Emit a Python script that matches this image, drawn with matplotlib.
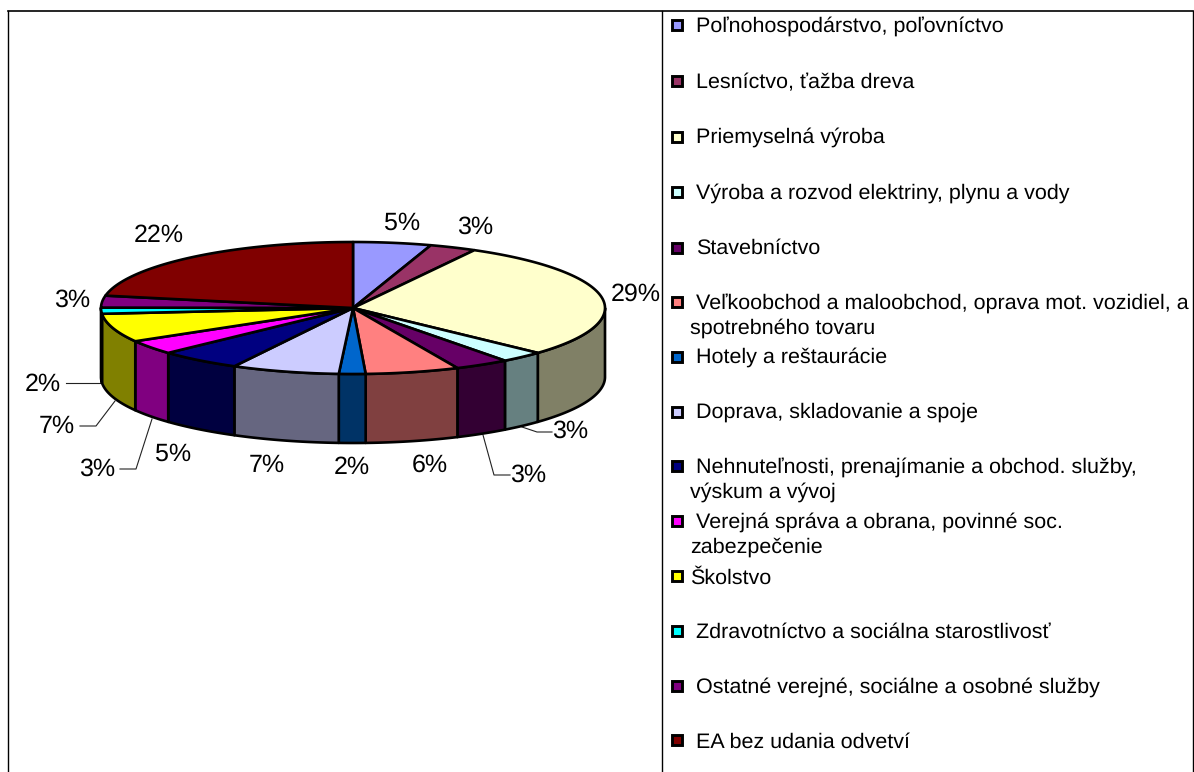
import numpy as np
import matplotlib.pyplot as plt
from matplotlib.patches import Polygon, Rectangle
from matplotlib.colors import to_rgb

plt.rcParams['font.family'] = ['Liberation Sans', 'DejaVu Sans']
plt.rcParams['text.hinting'] = 'no_hinting'

# data
categories = ['Poľnohospodárstvo, poľovníctvo', 'Lesníctvo, ťažba dreva', 'Priemyselná výroba',
              'Výroba a rozvod elektriny, plynu a vody', 'Stavebníctvo',
              'Veľkoobchod a maloobchod, oprava mot. vozidiel, a\nspotrebného tovaru', 'Hotely a reštaurácie',
              'Doprava, skladovanie a spoje', 'Nehnuteľnosti, prenajímanie a obchod. služby,\nvýskum a vývoj',
              'Verejná správa a obrana, povinné soc.\nzabezpečenie', 'Školstvo',
              'Zdravotníctvo a sociálna starostlivosť', 'Ostatné verejné, sociálne a osobné služby',
              'EA bez udania odvetví']
shares = [5.0, 3.0, 28.9, 2.8, 3.5, 6.0, 1.7, 6.9, 5.3, 3.5, 7.0, 1.5, 2.9, 22.0]
pct_labels = ['5%', '3%', '29%', '3%', '3%', '6%', '2%', '7%', '5%', '3%', '7%', '2%', '3%', '22%']
colors = ['#9999FF', '#993366', '#FFFFCC', '#CCFFFF', '#660066', '#FF8080', '#0066CC',
          '#CCCCFF', '#000080', '#FF00FF', '#FFFF00', '#00FFFF', '#800080', '#800000']

# layout, in pixels of the picture
cx, cy, rx, ry, depth = 353, 308, 252, 66, 69
label_pos = [(402, 230), (475, 234), (636, 301), (570, 438), (528, 482), (430, 472), (352, 474),
             (267, 472), (173, 461), (97, 476), (57, 433), (43, 391), (72, 307), (159, 242)]
leaders = [[(552, 432), (537, 432), (522, 427)],
           [(510, 475), (494, 475), (483, 435)],
           [(120, 469), (136, 469), (152, 419)],
           [(80, 426), (96, 426), (115, 401)],
           [(66, 383), (100, 383)]]
legend_y = [25, 81, 137, 192, 248, 302, 357, 412, 466, 521, 576, 631, 686, 740]
legend_base = [32, 88, 143, 199, 254, 309, 363, 418, 473, 528, 584, 638, 693, 748]

fig = plt.figure(figsize=(11.94, 7.72), dpi=100)
ax = fig.add_axes([0, 0, 1, 1])
ax.set_xlim(0, 1194)
ax.set_ylim(772, 0)
ax.axis('off')


def rim(a0, a1, dy=0):
    t = np.radians(np.linspace(a0, a1, max(int(abs(a1 - a0)) * 2, 2)))
    return np.column_stack([cx + rx * np.sin(t), cy - ry * np.cos(t) + dy])


edges = np.concatenate([[0], np.cumsum(shares)]) / np.sum(shares) * 360

# side wall first, only the front half of the pie shows
for i in range(len(shares)):
    a0, a1 = max(edges[i], 90), min(edges[i + 1], 270)
    if a1 <= a0:
        continue
    dark = tuple(c * 0.5 for c in to_rgb(colors[i]))
    wall = np.vstack([rim(a0, a1), rim(a1, a0, depth)])
    ax.add_patch(Polygon(wall, closed=True, fc=dark, ec='black', lw=1.9, joinstyle='round', zorder=2))

# top of the slices
for i in range(len(shares)):
    top = np.vstack([[(cx, cy)], rim(edges[i], edges[i + 1])])
    ax.add_patch(Polygon(top, closed=True, fc=colors[i], ec='black', lw=1.9, joinstyle='round', zorder=3))

for (x, y), s in zip(label_pos, pct_labels):
    ax.text(x, y, s, fontsize=18, ha='center', va='baseline', color='black', zorder=5)

for line in leaders:
    ax.plot([p[0] for p in line], [p[1] for p in line], color='#222222', lw=0.8, zorder=1)

# legend on the right, Excel style
for i, name in enumerate(categories):
    ax.add_patch(Rectangle((672, legend_y[i] - 5), 10, 10, fc=colors[i], ec='black', lw=2.1, zorder=4))
    lines = name.split('\n')
    x_first = 690 if name == 'Školstvo' else 696
    ax.text(x_first, legend_base[i], lines[0], fontsize=15.45, ha='left', va='baseline')
    if len(lines) > 1:
        ax.text(690, legend_base[i] + 25, lines[1], fontsize=15.45, ha='left', va='baseline')

# table frame
ax.plot([8, 1193], [11, 11], color='black', lw=1.2)
ax.plot([8, 8], [11, 772], color='black', lw=1)
ax.plot([662, 662], [11, 772], color='black', lw=1)
ax.plot([1193, 1193], [11, 772], color='black', lw=1)

fig.savefig('out.png', dpi=100)
